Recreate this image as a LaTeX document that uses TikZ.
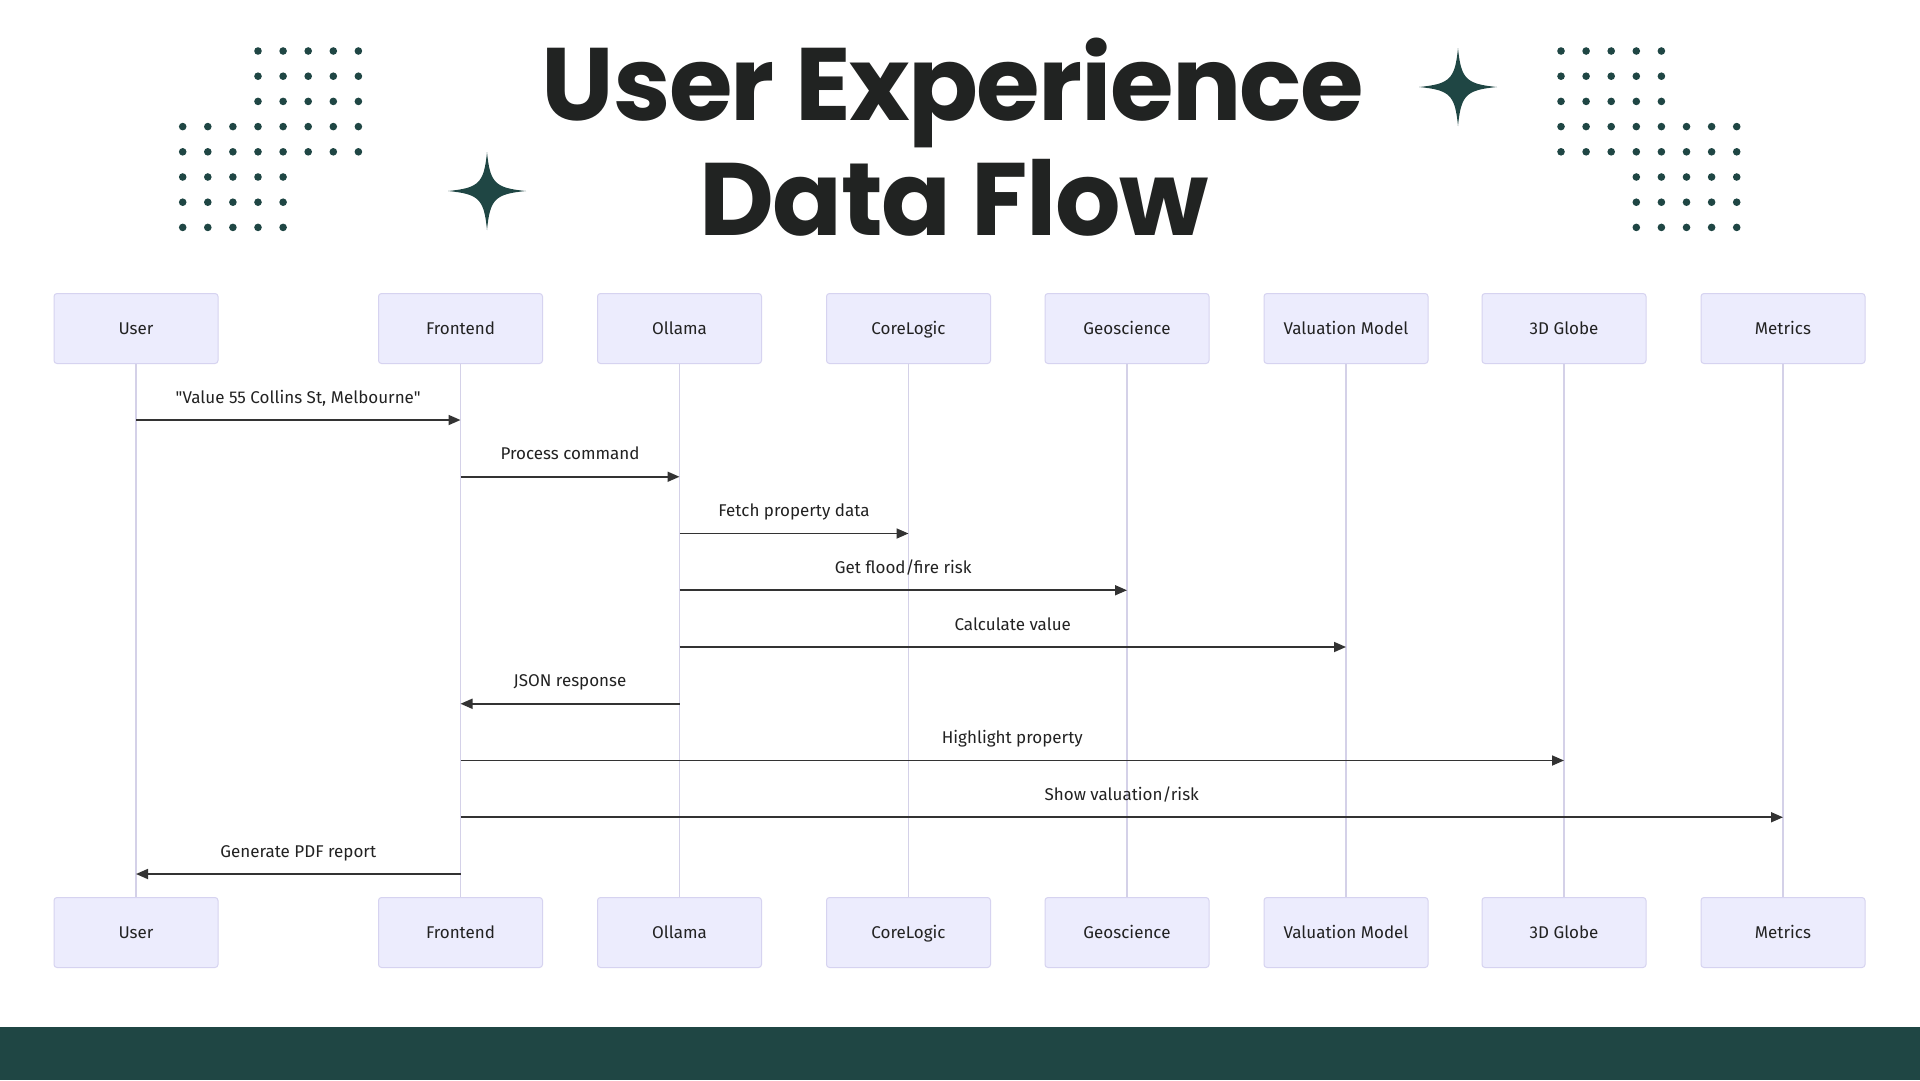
\documentclass[tikz,border=0pt]{standalone}
\usepackage{fontspec}
\setmainfont{Fira Sans}
\newfontfamily\titlefont{Poppins}[LetterSpace=-1.5]
\usetikzlibrary{arrows.meta}
\definecolor{decocol}{HTML}{1F4644}
\definecolor{titlecol}{HTML}{212322}
\definecolor{actorfill}{HTML}{ECECFD}
\definecolor{actorline}{HTML}{D6D3F0}
\definecolor{lifecol}{HTML}{D4D1E8}
\definecolor{msgcol}{HTML}{333333}
\definecolor{textcol}{HTML}{222222}
\tikzset{
  actor/.style={draw=actorline, fill=actorfill, rounded corners=3pt, line width=1pt,
    minimum width=164pt, minimum height=70pt, text=textcol,
    text height=12pt, text depth=0pt, font=\fontsize{17}{20}\selectfont},
  lifeline/.style={draw=lifecol, line width=1.6pt},
  msg/.style={draw=msgcol, line width=1.7pt, -{Triangle[length=12pt,width=10pt]}},
  msglabel/.style={anchor=base, yshift=17pt, text=textcol, font=\fontsize{17}{20}\selectfont},
  title/.style={anchor=base, text=titlecol, font=\titlefont\bfseries\fontsize{103}{103}\selectfont},
  sparkle/.pic={\fill[decocol] (0,-39) .. controls (3,-8) and (8,-3) .. (39,0)
    .. controls (8,3) and (3,8) .. (0,39) .. controls (-3,8) and (-8,3) .. (-39,0)
    .. controls (-8,-3) and (-3,-8) .. cycle;}
}
\begin{document}
\begin{tikzpicture}[x=1pt,y=-1pt]
  \useasboundingbox (0,0) rectangle (1920,1080);
  \fill[white] (0,0) rectangle (1920,1080);
  \fill[decocol] (0,1027) rectangle (1920,1080);
  % title and decorations
  \node[title] (title1) at (953,120) {User Experience};
  \node[title] (title2) at (954,235) {Data Flow};
  \pic at (487,191) {sparkle};
  \pic at (1458,87) {sparkle};
  \foreach \r in {0,1,2} \foreach \c in {3,...,7}
    \fill[decocol] ({182.7+25.1*\c},{51+25.2*\r}) circle (3.8);
  \foreach \r in {3,4} \foreach \c in {0,...,7}
    \fill[decocol] ({182.7+25.1*\c},{51+25.2*\r}) circle (3.8);
  \foreach \r in {5,6,7} \foreach \c in {0,...,4}
    \fill[decocol] ({182.7+25.1*\c},{51+25.2*\r}) circle (3.8);
  \foreach \r in {0,1,2} \foreach \c in {0,...,4}
    \fill[decocol] ({1561+25.1*\c},{51+25.2*\r}) circle (3.8);
  \foreach \r in {3,4} \foreach \c in {0,...,7}
    \fill[decocol] ({1561+25.1*\c},{51+25.2*\r}) circle (3.8);
  \foreach \r in {5,6,7} \foreach \c in {3,...,7}
    \fill[decocol] ({1561+25.1*\c},{51+25.2*\r}) circle (3.8);
  % participants
  \foreach \n/\x/\lbl in {user/136/User, front/460.5/Frontend, ollama/679.5/Ollama,
      corelogic/908.5/CoreLogic, geo/1127/Geoscience, valuation/1346/Valuation Model,
      globe/1564/3D Globe, metrics/1783/Metrics}{
    \node[actor] (\n) at (\x,328.5) {\lbl};
    \node[actor] (\n-b) at (\x,932.5) {\lbl};
    \draw[lifeline] (\n.south) -- (\n-b.north);
  }
  % messages
  \foreach \i in {1,...,9}
    \coordinate (row\i) at (0,{420+56.75*(\i-1)});
  \foreach \src/\dst/\row/\lbl in {
      user/front/1/{\textquotedbl Value 55 Collins St, Melbourne\textquotedbl},
      front/ollama/2/{Process command},
      ollama/corelogic/3/{Fetch property data},
      ollama/geo/4/{Get flood/fire risk},
      ollama/valuation/5/{Calculate value},
      ollama/front/6/{JSON response},
      front/globe/7/{Highlight property},
      front/metrics/8/{Show valuation/risk},
      front/user/9/{Generate PDF report}}
    \draw[msg] (\src |- row\row) -- node[msglabel] {\lbl} (\dst |- row\row);
\end{tikzpicture}
\end{document}
